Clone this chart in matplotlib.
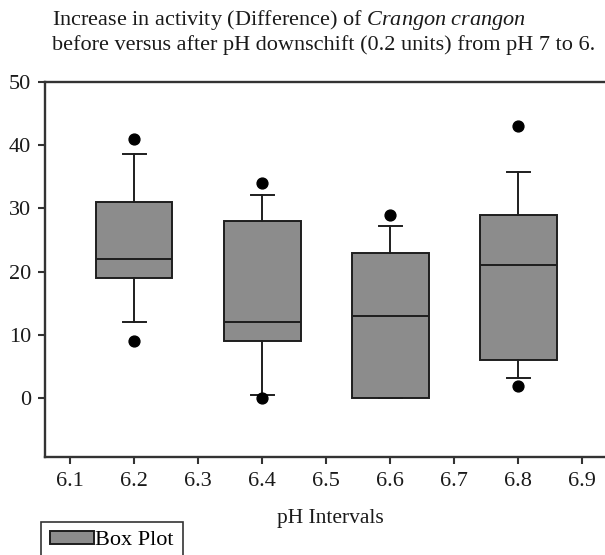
import matplotlib
matplotlib.use("Agg")
import matplotlib.pyplot as plt
from matplotlib.patches import Patch

# box plot statistics
ph_intervals = [6.2, 6.4, 6.6, 6.8]
q1 = [19.0, 9.0, 0.0, 6.0]
medians = [22.0, 12.0, 13.0, 21.0]
q3 = [31.0, 28.0, 23.0, 29.0]
whisker_low = [12.0, 0.5, 0.0, 3.2]
whisker_high = [38.6, 32.1, 27.2, 35.8]
outliers = [[41.0, 9.0], [34.0, 0.0], [29.0], [43.0, 2.0]]

x_ticks = [6.1, 6.2, 6.3, 6.4, 6.5, 6.6, 6.7, 6.8, 6.9]
y_ticks = [0, 10, 20, 30, 40, 50]

plt.rcParams['font.family'] = ['Liberation Serif', 'DejaVu Serif']
plt.rcParams['mathtext.fontset'] = 'custom'
plt.rcParams['mathtext.rm'] = 'Liberation Serif'
plt.rcParams['mathtext.it'] = 'Liberation Serif:italic'

W, H = 605, 555
fig = plt.figure(figsize=(W / 100, H / 100), dpi=100)

# axes run past the right edge, like the cropped original
left, right, top, bottom = 45, 608, 82, 457
ax = fig.add_axes([left / W, 1 - bottom / H, (right - left) / W, (bottom - top) / H])

stats = []
for i in range(len(ph_intervals)):
    stats.append(dict(med=medians[i], q1=q1[i], q3=q3[i],
                      whislo=whisker_low[i], whishi=whisker_high[i],
                      fliers=outliers[i]))

line_col = '#1e1e1e'
ax.bxp(stats, positions=ph_intervals, widths=0.12, patch_artist=True,
       manage_ticks=False, capwidths=0.036,
       boxprops=dict(facecolor='#8c8c8c', edgecolor=line_col, linewidth=1.4),
       medianprops=dict(color=line_col, linewidth=1.4),
       whiskerprops=dict(color=line_col, linewidth=1.4),
       capprops=dict(color=line_col, linewidth=1.4),
       flierprops=dict(marker='o', markerfacecolor='black', markeredgecolor='black',
                       markersize=7.8))

ax.set_xlim(6.061, 6.94)
ax.set_ylim(-9.3, 50)
ax.set_xticks(x_ticks)
ax.set_xticklabels([f"{t:.1f}" for t in x_ticks])
ax.set_yticks(y_ticks)

for s in ax.spines.values():
    s.set_color('#333333')
    s.set_linewidth(1.7)
ax.tick_params(direction='out', length=5, width=1.5, color='#333333',
               labelsize=16, labelcolor='#1a1a1a', top=False, right=False)
ax.tick_params(axis='x', pad=6)
ax.tick_params(axis='y', pad=5)

fig.text(52 / W, 1 - 20 / H, "Increase in activity (Difference) of $\\mathit{Crangon\\ crangon}$",
         fontsize=16, va='center', ha='left', color='#1a1a1a')
fig.text(52 / W, 1 - 45 / H, "before versus after pH downschift (0.2 units) from pH 7 to 6.",
         fontsize=16, va='center', ha='left', color='#1a1a1a')

fig.text(330 / W, 1 - 518 / H, "pH Intervals", fontsize=15.5, ha='center', va='center',
         color='#1a1a1a')

handle = Patch(facecolor='#8c8c8c', edgecolor=line_col, linewidth=1.4)
leg = fig.legend([handle], ["Box Plot"], loc='upper left',
                 bbox_to_anchor=(41 / W, 1 - 522 / H), fontsize=16,
                 fancybox=False, framealpha=1, edgecolor='#333333',
                 handlelength=2.0, handleheight=0.5, handletextpad=0.05,
                 borderpad=0.4, borderaxespad=0)
leg.get_frame().set_linewidth(1.2)

fig.savefig("out.png", dpi=100)
